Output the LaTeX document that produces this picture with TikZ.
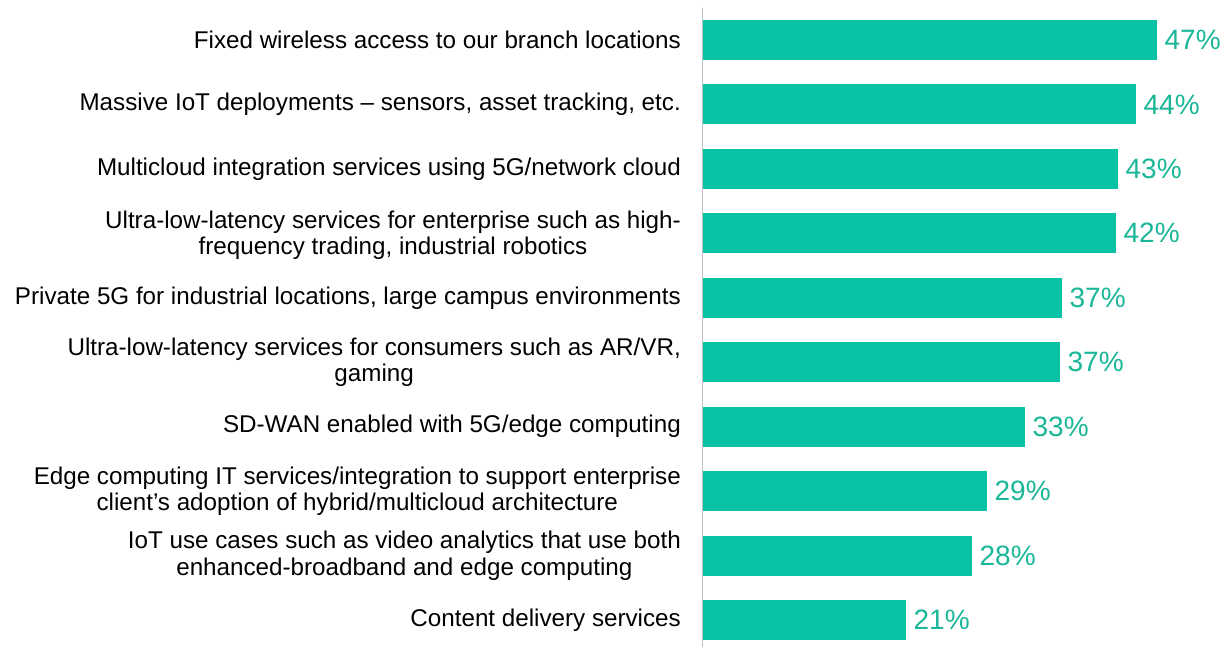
\documentclass[tikz,border=0pt]{standalone}
\usepackage{fontspec}
\setmainfont{Liberation Sans}
\usepackage{xcolor}
\usetikzlibrary{positioning}
\definecolor{barteal}{RGB}{8,194,166}
\definecolor{pctteal}{RGB}{25,182,152}
\tikzset{
  bar/.style={rectangle,fill=barteal,inner sep=0pt,minimum height=40pt,anchor=west},
  cat/.style={align=center,inner sep=0pt,font=\fontsize{24.2}{26.5}\selectfont},
  pct/.style={inner sep=0pt,text=pctteal,font=\fontsize{28}{30}\selectfont}
}
\begin{document}
\begin{tikzpicture}[x=1pt,y=-1pt]
\useasboundingbox (0,0) rectangle (1225,647);
\node [bar,minimum width=454pt] at (703,40) (bar1) {};
\node [bar,minimum width=433pt] at (703,104.4) (bar2) {};
\node [bar,minimum width=415pt] at (703,168.9) (bar3) {};
\node [bar,minimum width=413pt] at (703,233.3) (bar4) {};
\node [bar,minimum width=359pt] at (703,297.8) (bar5) {};
\node [bar,minimum width=357pt] at (703,362.2) (bar6) {};
\node [bar,minimum width=322pt] at (703,426.7) (bar7) {};
\node [bar,minimum width=284pt] at (703,491.1) (bar8) {};
\node [bar,minimum width=269pt] at (703,555.5) (bar9) {};
\node [bar,minimum width=203pt] at (703,620) (bar10) {};
\node [cat,left=22pt of bar1] (cat1) {Fixed wireless access to our branch locations};
\node [cat,left=22pt of bar2] (cat2) {Massive IoT deployments -- sensors, asset tracking, etc.};
\node [cat,left=22pt of bar3] (cat3) {Multicloud integration services using 5G/network cloud};
\node [cat,left=22pt of bar4,yshift=-2pt] (cat4) {Ultra-low-latency services for enterprise such as high-\\frequency trading, industrial robotics};
\node [cat,left=22pt of bar5] (cat5) {Private 5G for industrial locations, large campus environments};
\node [cat,left=22pt of bar6] (cat6) {Ultra-low-latency services for consumers such as AR/VR,\\gaming};
\node [cat,left=22pt of bar7] (cat7) {SD-WAN enabled with 5G/edge computing};
\node [cat,left=22pt of bar8] (cat8) {Edge computing IT services/integration to support enterprise\\client's adoption of hybrid/multicloud architecture};
\node [cat,left=22pt of bar9] (cat9) {IoT use cases such as video analytics that use both\\enhanced-broadband and edge computing};
\node [cat,left=22pt of bar10] (cat10) {Content delivery services};
\node [pct,right=7pt of bar1] (pct1) {47\%};
\node [pct,right=7pt of bar2] (pct2) {44\%};
\node [pct,right=7pt of bar3] (pct3) {43\%};
\node [pct,right=7pt of bar4] (pct4) {42\%};
\node [pct,right=7pt of bar5] (pct5) {37\%};
\node [pct,right=7pt of bar6] (pct6) {37\%};
\node [pct,right=7pt of bar7] (pct7) {33\%};
\node [pct,right=7pt of bar8] (pct8) {29\%};
\node [pct,right=7pt of bar9] (pct9) {28\%};
\node [pct,right=7pt of bar10] (pct10) {21\%};
% vertical axis
\coordinate (axtop) at (702,8);
\coordinate (axbot) at (702,647);
\draw [black!25,line width=1pt] (axtop) -- (axbot);
\end{tikzpicture}
\end{document}
